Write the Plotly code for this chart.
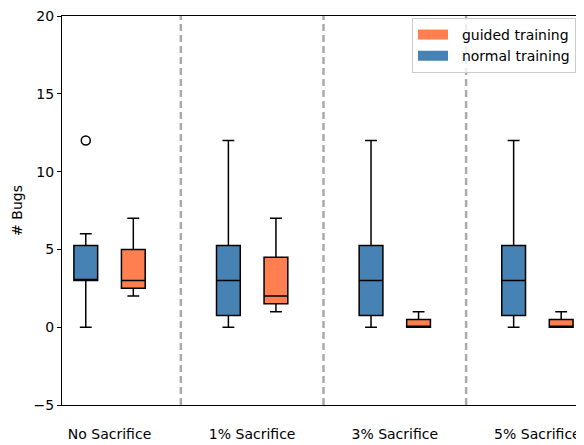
import plotly.graph_objects as go

categories = ["No Sacrifice", "1% Sacrifice", "3% Sacrifice", "5% Sacrifice"]
tick_positions = [1.5, 4.5, 7.5, 10.5]
normal_pos = [1, 4, 7, 10]
guided_pos = [2, 5, 8, 11]
separators = [3, 6, 9]

normal_low = [0, 0, 0, 0]
normal_q1 = [3, 0.75, 0.75, 0.75]
normal_med = [3, 3, 3, 3]
normal_q3 = [5.25, 5.25, 5.25, 5.25]
normal_high = [6, 12, 12, 12]
normal_outlier_x = [1]
normal_outlier_y = [12]

guided_low = [2, 1, 0, 0]
guided_q1 = [2.5, 1.5, 0, 0]
guided_med = [3, 2, 0, 0]
guided_q3 = [5, 4.5, 0.5, 0.5]
guided_high = [7, 7, 1, 1]

BLUE = "#4682B4"
ORANGE = "#FF7F50"
FONT = "DejaVu Sans"

fig = go.Figure()

fig.add_trace(go.Box(
    x=normal_pos, q1=normal_q1, median=normal_med, q3=normal_q3,
    lowerfence=normal_low, upperfence=normal_high,
    fillcolor=BLUE, line=dict(color="black", width=1.5),
    width=0.5, whiskerwidth=0.5, boxpoints=False, showlegend=False,
    hoverinfo="skip",
))
fig.add_trace(go.Box(
    x=guided_pos, q1=guided_q1, median=guided_med, q3=guided_q3,
    lowerfence=guided_low, upperfence=guided_high,
    fillcolor=ORANGE, line=dict(color="black", width=1.5),
    width=0.5, whiskerwidth=0.5, boxpoints=False, showlegend=False,
    hoverinfo="skip",
))
fig.add_trace(go.Scatter(
    x=normal_outlier_x, y=normal_outlier_y, mode="markers",
    marker=dict(symbol="circle-open", size=9, color="black", line=dict(width=1.5)),
    showlegend=False, hoverinfo="skip",
))
# legend entries (thick line icons mimic the rectangular patches)
fig.add_trace(go.Scatter(x=[None], y=[None], mode="lines",
                         name="\u00a0\u00a0guided training",
                         line=dict(color=ORANGE, width=11)))
fig.add_trace(go.Scatter(x=[None], y=[None], mode="lines",
                         name="\u00a0\u00a0normal training",
                         line=dict(color=BLUE, width=11)))

for s in separators:
    fig.add_shape(type="line", xref="x", yref="paper", x0=s, x1=s, y0=0, y1=1,
                  line=dict(color="#aaaaaa", width=2.5, dash="7px,4px"), layer="below")

# page body has an 8px margin: figure spans 8..584 horizontally, 8..445 vertically
fig.update_layout(
    width=576, height=437,
    margin=dict(l=54, r=0, t=8, b=40, autoexpand=False),
    paper_bgcolor="white", plot_bgcolor="white",
    font=dict(family=FONT, size=14, color="black"),
    legend=dict(x=0.6705, y=0.995, xanchor="left", yanchor="top",
                bgcolor="rgba(255,255,255,0.8)", bordercolor="#cccccc", borderwidth=1,
                font=dict(size=14), traceorder="normal", itemwidth=30,
                tracegroupgap=0),
    xaxis=dict(range=[0.5, 11.48], tickvals=tick_positions, ticktext=categories,
               showgrid=False, zeroline=False, showline=True, linecolor="black",
               linewidth=1, mirror=True, ticks="", ticklabelstandoff=16,
               automargin=False, ticklabeloverflow="allow"),
    yaxis=dict(range=[-5, 20], tickvals=[-5, 0, 5, 10, 15, 20],
               ticktext=["\u22125", "0", "5", "10", "15", "20"],
               showgrid=False, zeroline=False, showline=True, linecolor="black",
               linewidth=1, ticks="outside", ticklen=4, tickcolor="black",
               automargin=False, ticklabeloverflow="allow",
               title=dict(text="# Bugs", standoff=7, font=dict(size=14))),
    showlegend=True,
)

fig.write_html("out.html")
